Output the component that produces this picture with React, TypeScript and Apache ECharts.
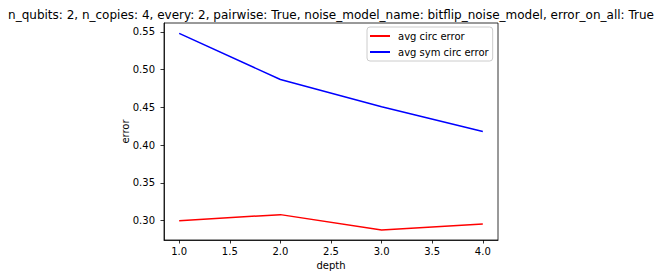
import React, { useEffect, useRef } from "react";
import * as echarts from "echarts";

const depths = [1, 2, 3, 4];
const avgCircError = [0.3, 0.308, 0.2875, 0.2955];
const avgSymCircError = [0.548, 0.487, 0.451, 0.418];
const xTicks = [1.0, 1.5, 2.0, 2.5, 3.0, 3.5, 4.0];
const yTicks = [0.3, 0.35, 0.4, 0.45, 0.5, 0.55];
const titleText =
  "n_qubits: 2, n_copies: 4, every: 2, pairwise: True, noise_model_name: bitflip_noise_model, error_on_all: True";

const FONT = "DejaVu Sans";

export default function App() {
  const ref = useRef<HTMLDivElement>(null);
  useEffect(() => {
    if (!ref.current) return;
    const chart = echarts.init(ref.current, null, { renderer: "svg" });
    const axisCommon = {
      type: "value" as const,
      axisLine: { show: true, lineStyle: { color: "#000", width: 0.8 } },
      axisTick: { show: true, length: 3.5, lineStyle: { color: "#000", width: 0.8 } },
      splitLine: { show: false },
      nameLocation: "middle" as const,
      nameMoveOverlap: false,
      nameTextStyle: { fontFamily: FONT, fontSize: 10, color: "#000" },
    };
    chart.setOption({
      animation: false,
      backgroundColor: "#fff",
      title: {
        text: titleText,
        left: "center",
        top: 4,
        textStyle: { fontFamily: FONT, fontSize: 12, fontWeight: "normal", color: "#000" },
      },
      grid: {
        left: 164,
        right: 164,
        top: 23,
        bottom: 38,
        show: true,
        borderColor: "#000",
        borderWidth: 0.8,
      },
      legend: {
        orient: "vertical",
        left: 367,
        top: 27,
        padding: [3, 4, 3, 3],
        itemWidth: 20,
        itemHeight: 2,
        itemGap: 4,
        icon: "rect",
        borderColor: "#ccc",
        borderWidth: 1,
        borderRadius: 3,
        backgroundColor: "rgba(255,255,255,0.8)",
        textStyle: { fontFamily: FONT, fontSize: 10, color: "#000", lineHeight: 12, padding: [0, 0, 0, 3] },
        data: ["avg circ error", "avg sym circ error"],
      },
      xAxis: {
        ...axisCommon,
        min: 0.85,
        max: 4.15,
        name: "depth",
        nameGap: 20,
        axisTick: { ...axisCommon.axisTick, customValues: xTicks },
        axisLabel: {
          customValues: xTicks,
          formatter: (v: number) => v.toFixed(1),
          fontFamily: FONT,
          fontSize: 10,
          color: "#000",
          margin: 6,
        },
      },
      yAxis: {
        ...axisCommon,
        min: 0.2744,
        max: 0.5618,
        name: "error",
        nameGap: 34,
        axisTick: { ...axisCommon.axisTick, customValues: yTicks },
        axisLabel: {
          customValues: yTicks,
          formatter: (v: number) => v.toFixed(2),
          fontFamily: FONT,
          fontSize: 10,
          color: "#000",
          margin: 9,
        },
      },
      series: [
        {
          name: "avg circ error",
          type: "line",
          data: depths.map((d, i) => [d, avgCircError[i]]),
          showSymbol: false,
          symbol: "none",
          lineStyle: { color: "#ff0000", width: 1.5 },
          itemStyle: { color: "#ff0000" },
        },
        {
          name: "avg sym circ error",
          type: "line",
          data: depths.map((d, i) => [d, avgSymCircError[i]]),
          showSymbol: false,
          symbol: "none",
          lineStyle: { color: "#0000ff", width: 1.5 },
          itemStyle: { color: "#0000ff" },
        },
      ],
    });
    return () => chart.dispose();
  }, []);
  return <div ref={ref} style={{ width: 662, height: 278, position: "absolute", left: 0, top: 0 }} />;
}
